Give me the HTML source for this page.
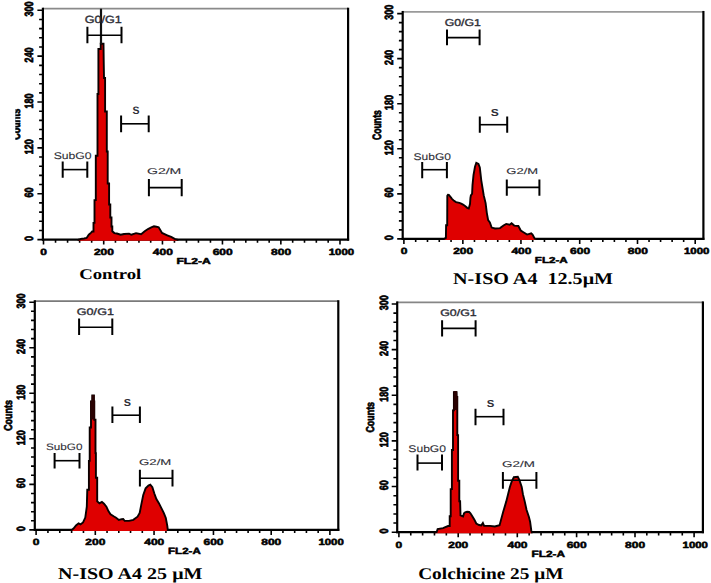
<!DOCTYPE html>
<html><head><meta charset="utf-8"><style>
html,body{margin:0;padding:0;background:#fff;width:711px;height:583px;overflow:hidden}
svg{display:block}
</style></head><body>
<svg width="711" height="583" viewBox="0 0 711 583" text-rendering="geometricPrecision">
<rect width="711" height="583" fill="#fff"/>
<g>
<line x1="42.9" y1="8.6" x2="348.1" y2="8.6" stroke="#8a8a8a" stroke-width="1.8"/>
<line x1="348.1" y1="7.7" x2="348.1" y2="240.6" stroke="#000" stroke-width="2.2"/>
<line x1="42.9" y1="7.7" x2="42.9" y2="240.6" stroke="#000" stroke-width="2.2"/>
<line x1="41.9" y1="239.6" x2="349.1" y2="239.6" stroke="#000" stroke-width="2.2"/>
<path d="M43.5 239.6v5 M55.54 239.6v3.2 M67.58 239.6v3.2 M79.62 239.6v3.2 M91.66 239.6v3.2 M103.7 239.6v5 M115.45 239.6v3.2 M127.2 239.6v3.2 M138.95 239.6v3.2 M150.7 239.6v3.2 M162.45 239.6v5 M174.45 239.6v3.2 M186.45 239.6v3.2 M198.45 239.6v3.2 M210.45 239.6v3.2 M222.45 239.6v5 M234.13 239.6v3.2 M245.81 239.6v3.2 M257.49 239.6v3.2 M269.17 239.6v3.2 M280.85 239.6v5 M292.68 239.6v3.2 M304.51 239.6v3.2 M316.34 239.6v3.2 M328.17 239.6v3.2 M340 239.6v5 M42.9 239.6h-5.5 M42.9 230.43h-3.8 M42.9 221.26h-3.8 M42.9 212.08h-3.8 M42.9 202.91h-3.8 M42.9 193.74h-5.5 M42.9 184.57h-3.8 M42.9 175.4h-3.8 M42.9 166.22h-3.8 M42.9 157.05h-3.8 M42.9 147.88h-5.5 M42.9 138.71h-3.8 M42.9 129.54h-3.8 M42.9 120.36h-3.8 M42.9 111.19h-3.8 M42.9 102.02h-5.5 M42.9 92.85h-3.8 M42.9 83.68h-3.8 M42.9 74.5h-3.8 M42.9 65.33h-3.8 M42.9 56.16h-5.5 M42.9 46.99h-3.8 M42.9 37.82h-3.8 M42.9 28.64h-3.8 M42.9 19.47h-3.8 M42.9 10.3h-5.5" stroke="#000" stroke-width="1.6" fill="none"/>
<clipPath id="hc0"><rect x="0" y="0" width="711" height="240.7"/></clipPath>
<g clip-path="url(#hc0)">
<path d="M78.5 251.1 L177.5 251.1 L177.5 239.7 L175.12 239.17 L171.18 236.95 L167.2 235.26 L162.05 232.99 L158.67 227.33 L156.39 226.69 L153.96 226.31 L151.3 227.36 L147.96 229.03 L144.7 231.3 L141.13 234.24 L136.03 233.12 L131.37 234.74 L129.1 233.61 L124.07 234 L120.67 234.72 L116.88 233.49 L114.38 233.07 L112.3 231.22 L112.3 226.5 L111.5 226.5 L111.5 217.5 L110.3 217.5 L110.3 204.5 L109.1 204.5 L109.1 183.5 L107.7 183.5 L107.7 151.5 L106.8 151.5 L106.8 111.5 L105.1 111.5 L105.1 78 L104.01 78 L103.7 60.01 L103.51 43.8 L100.7 43.8 L100.7 49 L98.4 49 L98.4 94 L97.5 94 L97.5 155.7 L95.8 155.7 L95.8 200.1 L94.5 200.1 L94.5 222.9 L93.5 222.9 L93.5 231.5 L92.12 231.5 L90.85 232.86 L88.78 234.73 L86.6 237.95 L84.08 238.49 L82.1 238.69 L80.13 239.28 L78.5 239.69 Z" fill="#df0000" stroke="#0a0000" stroke-width="1.9" stroke-linejoin="miter"/>
</g>
<line x1="101" y1="8.7" x2="101" y2="44" stroke="#111" stroke-width="2.2"/>
<text transform="translate(40.37,254.6) scale(0.12000,0.09000)" font-family="Liberation Sans" font-weight="bold" font-size="100" fill="#000" style="white-space:pre" stroke="#000" stroke-width="5.77" stroke-linejoin="round">0</text>
<text transform="translate(93.94,254.6) scale(0.12000,0.09000)" font-family="Liberation Sans" font-weight="bold" font-size="100" fill="#000" style="white-space:pre" stroke="#000" stroke-width="5.77" stroke-linejoin="round">200</text>
<text transform="translate(152.81,254.6) scale(0.12000,0.09000)" font-family="Liberation Sans" font-weight="bold" font-size="100" fill="#000" style="white-space:pre" stroke="#000" stroke-width="5.77" stroke-linejoin="round">400</text>
<text transform="translate(212.69,254.6) scale(0.12000,0.09000)" font-family="Liberation Sans" font-weight="bold" font-size="100" fill="#000" style="white-space:pre" stroke="#000" stroke-width="5.77" stroke-linejoin="round">600</text>
<text transform="translate(271.12,254.6) scale(0.12000,0.09000)" font-family="Liberation Sans" font-weight="bold" font-size="100" fill="#000" style="white-space:pre" stroke="#000" stroke-width="5.77" stroke-linejoin="round">800</text>
<text transform="translate(328.7,254.6) scale(0.11400,0.09000)" font-family="Liberation Sans" font-weight="bold" font-size="100" fill="#000" style="white-space:pre" stroke="#000" stroke-width="5.92" stroke-linejoin="round">1000</text>
<text transform="translate(33.14,240.9) rotate(-90) scale(0.09000,0.12000)" font-family="Liberation Sans" font-weight="bold" font-size="100" fill="#000" style="white-space:pre" stroke="#000" stroke-width="5.77" stroke-linejoin="round">0</text>
<text transform="translate(33.14,197.51) rotate(-90) scale(0.09000,0.12000)" font-family="Liberation Sans" font-weight="bold" font-size="100" fill="#000" style="white-space:pre" stroke="#000" stroke-width="5.77" stroke-linejoin="round">60</text>
<text transform="translate(33.14,154.26) rotate(-90) scale(0.09000,0.12000)" font-family="Liberation Sans" font-weight="bold" font-size="100" fill="#000" style="white-space:pre" stroke="#000" stroke-width="5.77" stroke-linejoin="round">120</text>
<text transform="translate(33.14,108.4) rotate(-90) scale(0.09000,0.12000)" font-family="Liberation Sans" font-weight="bold" font-size="100" fill="#000" style="white-space:pre" stroke="#000" stroke-width="5.77" stroke-linejoin="round">180</text>
<text transform="translate(33.14,62.43) rotate(-90) scale(0.09000,0.12000)" font-family="Liberation Sans" font-weight="bold" font-size="100" fill="#000" style="white-space:pre" stroke="#000" stroke-width="5.77" stroke-linejoin="round">240</text>
<text transform="translate(33.14,16.52) rotate(-90) scale(0.09000,0.12000)" font-family="Liberation Sans" font-weight="bold" font-size="100" fill="#000" style="white-space:pre" stroke="#000" stroke-width="5.77" stroke-linejoin="round">300</text>
<text transform="translate(20.28,139.76) rotate(-90) scale(0.09004,0.12394)" font-family="Liberation Sans" font-weight="bold" font-size="100" fill="#000" style="white-space:pre" stroke="#000" stroke-width="5.68" stroke-linejoin="round">Counts</text>
<text transform="translate(176.41,263.7) scale(0.12080,0.08714)" font-family="Liberation Sans" font-weight="bold" font-size="100" fill="#000" style="white-space:pre" stroke="#000" stroke-width="5.85" stroke-linejoin="round">FL2-A</text>
<path d="M87.4 35.2H121.5" stroke="#000" stroke-width="1.6" fill="none"/>
<path d="M87.4 26.8V43.3 M121.5 26.8V43.3" stroke="#000" stroke-width="2" fill="none"/>
<text transform="translate(84.67,22.8) scale(0.12561,0.10476)" font-family="Liberation Sans" font-weight="normal" font-size="100" fill="#2e2e36" style="white-space:pre" stroke="#2e2e36" stroke-width="3.49" stroke-linejoin="round">G0/G1</text>
<path d="M121.1 123.8H148.7" stroke="#000" stroke-width="1.6" fill="none"/>
<path d="M121.1 115.4V132.3 M148.7 115.4V132.3" stroke="#000" stroke-width="2" fill="none"/>
<text transform="translate(132.59,114.19) scale(0.10500,0.10845)" font-family="Liberation Sans" font-weight="bold" font-size="100" fill="#2e2e36" style="white-space:pre">S</text>
<path d="M62.7 169.6H87.3" stroke="#000" stroke-width="1.6" fill="none"/>
<path d="M62.7 161.5V177.7 M87.3 161.5V177.7" stroke="#000" stroke-width="2" fill="none"/>
<text transform="translate(53.65,159) scale(0.12178,0.09660)" font-family="Liberation Sans" font-weight="normal" font-size="100" fill="#2e2e36" style="white-space:pre" stroke="#2e2e36" stroke-width="0.92" stroke-linejoin="round">SubG0</text>
<path d="M148.9 187.6H181.7" stroke="#000" stroke-width="1.6" fill="none"/>
<path d="M148.9 178.9V196.3 M181.7 178.9V196.3" stroke="#000" stroke-width="2" fill="none"/>
<text transform="translate(147,174.22) scale(0.14026,0.08435)" font-family="Liberation Sans" font-weight="normal" font-size="100" fill="#2e2e36" style="white-space:pre" stroke="#2e2e36" stroke-width="1.38" stroke-linejoin="round">G2/M</text>
<text transform="translate(79.16,279) scale(0.18737,0.14809)" font-family="Liberation Serif" font-weight="bold" font-size="100" fill="#000" style="white-space:pre">Control</text>
<rect x="0" y="100" width="15.3" height="50" fill="#fff"/>
</g>
<g>
<line x1="402.7" y1="11.85" x2="703.4" y2="11.85" stroke="#9a9a9a" stroke-width="1.8"/>
<line x1="703.4" y1="10.95" x2="703.4" y2="239.9" stroke="#000" stroke-width="2.2"/>
<line x1="402.7" y1="10.95" x2="402.7" y2="239.9" stroke="#000" stroke-width="2.2"/>
<line x1="401.7" y1="238.9" x2="704.4" y2="238.9" stroke="#000" stroke-width="2.2"/>
<path d="M403.9 238.9v5 M415.69 238.9v3.2 M427.48 238.9v3.2 M439.27 238.9v3.2 M451.06 238.9v3.2 M462.85 238.9v5 M474.47 238.9v3.2 M486.09 238.9v3.2 M497.71 238.9v3.2 M509.33 238.9v3.2 M520.95 238.9v5 M532.7 238.9v3.2 M544.45 238.9v3.2 M556.2 238.9v3.2 M567.95 238.9v3.2 M579.7 238.9v5 M591.26 238.9v3.2 M602.82 238.9v3.2 M614.38 238.9v3.2 M625.94 238.9v3.2 M637.5 238.9v5 M649.04 238.9v3.2 M660.58 238.9v3.2 M672.12 238.9v3.2 M683.66 238.9v3.2 M695.2 238.9v5 M402.7 238.9h-5.5 M402.7 229.89h-3.8 M402.7 220.88h-3.8 M402.7 211.86h-3.8 M402.7 202.85h-3.8 M402.7 193.84h-5.5 M402.7 184.83h-3.8 M402.7 175.82h-3.8 M402.7 166.8h-3.8 M402.7 157.79h-3.8 M402.7 148.78h-5.5 M402.7 139.77h-3.8 M402.7 130.76h-3.8 M402.7 121.74h-3.8 M402.7 112.73h-3.8 M402.7 103.72h-5.5 M402.7 94.71h-3.8 M402.7 85.7h-3.8 M402.7 76.68h-3.8 M402.7 67.67h-3.8 M402.7 58.66h-5.5 M402.7 49.65h-3.8 M402.7 40.64h-3.8 M402.7 31.62h-3.8 M402.7 22.61h-3.8 M402.7 13.6h-5.5" stroke="#000" stroke-width="1.6" fill="none"/>
<clipPath id="hc1"><rect x="0" y="0" width="711" height="240"/></clipPath>
<g clip-path="url(#hc1)">
<path d="M440.7 250.2 L536.3 250.2 L536.3 238.89 L534.75 238.63 L532.54 234.63 L531.2 233.29 L527.09 234.57 L523.42 232.19 L520.77 230.49 L518.36 225.96 L514.21 225.58 L511.57 223.3 L509.66 224.76 L506.21 223.94 L503.49 225.49 L500.06 228.08 L495.03 228.51 L491.66 227.58 L489.87 222.34 L488.14 220.09 L486.81 212.81 L485.61 203.13 L483.71 195.24 L481.31 180.6 L479.81 167.47 L478.45 164 L476.3 162.89 L474.98 166.78 L473.49 175.1 L472.5 185.05 L472.09 193.74 L470.86 195.48 L470.4 198.09 L469.99 204.12 L468.75 208.46 L467.24 207.81 L465.08 206.06 L463.03 204.6 L461.2 203.63 L459.39 202.87 L456.02 202.16 L454.06 200.85 L451.98 198.87 L450.45 196.93 L448.83 194.86 L447.94 194.75 L447.3 195.71 L447.2 225.3 L446.09 225.3 L445.89 237.9 L443.73 239.18 L440.7 239.52 Z" fill="#df0000" stroke="#0a0000" stroke-width="1.9" stroke-linejoin="miter"/>
</g>
<text transform="translate(400.87,253.6) scale(0.12000,0.09000)" font-family="Liberation Sans" font-weight="bold" font-size="100" fill="#000" style="white-space:pre" stroke="#000" stroke-width="5.77" stroke-linejoin="round">0</text>
<text transform="translate(453.19,253.6) scale(0.12000,0.09000)" font-family="Liberation Sans" font-weight="bold" font-size="100" fill="#000" style="white-space:pre" stroke="#000" stroke-width="5.77" stroke-linejoin="round">200</text>
<text transform="translate(511.41,253.6) scale(0.12000,0.09000)" font-family="Liberation Sans" font-weight="bold" font-size="100" fill="#000" style="white-space:pre" stroke="#000" stroke-width="5.77" stroke-linejoin="round">400</text>
<text transform="translate(570.04,253.6) scale(0.12000,0.09000)" font-family="Liberation Sans" font-weight="bold" font-size="100" fill="#000" style="white-space:pre" stroke="#000" stroke-width="5.77" stroke-linejoin="round">600</text>
<text transform="translate(627.87,253.6) scale(0.12000,0.09000)" font-family="Liberation Sans" font-weight="bold" font-size="100" fill="#000" style="white-space:pre" stroke="#000" stroke-width="5.77" stroke-linejoin="round">800</text>
<text transform="translate(684,253.6) scale(0.11400,0.09000)" font-family="Liberation Sans" font-weight="bold" font-size="100" fill="#000" style="white-space:pre" stroke="#000" stroke-width="5.92" stroke-linejoin="round">1000</text>
<text transform="translate(393.14,240.2) rotate(-90) scale(0.09000,0.12000)" font-family="Liberation Sans" font-weight="bold" font-size="100" fill="#000" style="white-space:pre" stroke="#000" stroke-width="5.77" stroke-linejoin="round">0</text>
<text transform="translate(393.14,197.61) rotate(-90) scale(0.09000,0.12000)" font-family="Liberation Sans" font-weight="bold" font-size="100" fill="#000" style="white-space:pre" stroke="#000" stroke-width="5.77" stroke-linejoin="round">60</text>
<text transform="translate(393.14,155.16) rotate(-90) scale(0.09000,0.12000)" font-family="Liberation Sans" font-weight="bold" font-size="100" fill="#000" style="white-space:pre" stroke="#000" stroke-width="5.77" stroke-linejoin="round">120</text>
<text transform="translate(393.14,110.1) rotate(-90) scale(0.09000,0.12000)" font-family="Liberation Sans" font-weight="bold" font-size="100" fill="#000" style="white-space:pre" stroke="#000" stroke-width="5.77" stroke-linejoin="round">180</text>
<text transform="translate(393.14,64.93) rotate(-90) scale(0.09000,0.12000)" font-family="Liberation Sans" font-weight="bold" font-size="100" fill="#000" style="white-space:pre" stroke="#000" stroke-width="5.77" stroke-linejoin="round">240</text>
<text transform="translate(393.14,19.82) rotate(-90) scale(0.09000,0.12000)" font-family="Liberation Sans" font-weight="bold" font-size="100" fill="#000" style="white-space:pre" stroke="#000" stroke-width="5.77" stroke-linejoin="round">300</text>
<text transform="translate(381.18,139.95) rotate(-90) scale(0.08648,0.12113)" font-family="Liberation Sans" font-weight="bold" font-size="100" fill="#000" style="white-space:pre" stroke="#000" stroke-width="5.86" stroke-linejoin="round">Counts</text>
<text transform="translate(534.85,263.4) scale(0.11606,0.08714)" font-family="Liberation Sans" font-weight="bold" font-size="100" fill="#000" style="white-space:pre" stroke="#000" stroke-width="5.97" stroke-linejoin="round">FL2-A</text>
<path d="M447 37.6H479.6" stroke="#000" stroke-width="1.6" fill="none"/>
<path d="M447 29.4V45.3 M479.6 29.4V45.3" stroke="#000" stroke-width="2" fill="none"/>
<text transform="translate(444.68,25.5) scale(0.12316,0.09932)" font-family="Liberation Sans" font-weight="normal" font-size="100" fill="#2e2e36" style="white-space:pre" stroke="#2e2e36" stroke-width="3.62" stroke-linejoin="round">G0/G1</text>
<path d="M479.8 124.7H507.2" stroke="#000" stroke-width="1.6" fill="none"/>
<path d="M479.8 116.6V132.8 M507.2 116.6V132.8" stroke="#000" stroke-width="2" fill="none"/>
<text transform="translate(490.64,115.6) scale(0.12000,0.10141)" font-family="Liberation Sans" font-weight="bold" font-size="100" fill="#2e2e36" style="white-space:pre">S</text>
<path d="M422.2 169.7H446.9" stroke="#000" stroke-width="1.6" fill="none"/>
<path d="M422.2 162V178.2 M446.9 162V178.2" stroke="#000" stroke-width="2" fill="none"/>
<text transform="translate(413.46,159.7) scale(0.12046,0.09796)" font-family="Liberation Sans" font-weight="normal" font-size="100" fill="#2e2e36" style="white-space:pre" stroke="#2e2e36" stroke-width="0.92" stroke-linejoin="round">SubG0</text>
<path d="M506.8 187.4H539.4" stroke="#000" stroke-width="1.6" fill="none"/>
<path d="M506.8 179.4V195.7 M539.4 179.4V195.7" stroke="#000" stroke-width="2" fill="none"/>
<text transform="translate(506.35,174.42) scale(0.12987,0.08435)" font-family="Liberation Sans" font-weight="normal" font-size="100" fill="#2e2e36" style="white-space:pre" stroke="#2e2e36" stroke-width="1.43" stroke-linejoin="round">G2/M</text>
<text transform="translate(453.1,284.4) scale(0.20101,0.16489)" font-family="Liberation Serif" font-weight="bold" font-size="100" fill="#000" style="white-space:pre">N-ISO A4  12.5μM</text>
</g>
<g>
<line x1="34.8" y1="301.1" x2="338.3" y2="301.1" stroke="#7a7a7a" stroke-width="1.8"/>
<line x1="338.3" y1="300.2" x2="338.3" y2="530.9" stroke="#000" stroke-width="2.2"/>
<line x1="34.8" y1="300.2" x2="34.8" y2="530.9" stroke="#000" stroke-width="2.2"/>
<line x1="33.8" y1="529.9" x2="339.3" y2="529.9" stroke="#000" stroke-width="2.2"/>
<path d="M36.1 529.9v5 M47.94 529.9v3.2 M59.78 529.9v3.2 M71.62 529.9v3.2 M83.46 529.9v3.2 M95.3 529.9v5 M107.05 529.9v3.2 M118.8 529.9v3.2 M130.55 529.9v3.2 M142.3 529.9v3.2 M154.05 529.9v5 M165.93 529.9v3.2 M177.81 529.9v3.2 M189.69 529.9v3.2 M201.57 529.9v3.2 M213.45 529.9v5 M225 529.9v3.2 M236.55 529.9v3.2 M248.1 529.9v3.2 M259.65 529.9v3.2 M271.2 529.9v5 M282.94 529.9v3.2 M294.68 529.9v3.2 M306.42 529.9v3.2 M318.16 529.9v3.2 M329.9 529.9v5 M34.8 529.9h-5.5 M34.8 520.79h-3.8 M34.8 511.68h-3.8 M34.8 502.58h-3.8 M34.8 493.47h-3.8 M34.8 484.36h-5.5 M34.8 475.25h-3.8 M34.8 466.14h-3.8 M34.8 457.04h-3.8 M34.8 447.93h-3.8 M34.8 438.82h-5.5 M34.8 429.71h-3.8 M34.8 420.6h-3.8 M34.8 411.5h-3.8 M34.8 402.39h-3.8 M34.8 393.28h-5.5 M34.8 384.17h-3.8 M34.8 375.06h-3.8 M34.8 365.96h-3.8 M34.8 356.85h-3.8 M34.8 347.74h-5.5 M34.8 338.63h-3.8 M34.8 329.52h-3.8 M34.8 320.42h-3.8 M34.8 311.31h-3.8 M34.8 302.2h-5.5" stroke="#000" stroke-width="1.6" fill="none"/>
<clipPath id="hc2"><rect x="0" y="0" width="711" height="531"/></clipPath>
<g clip-path="url(#hc2)">
<path d="M69.7 541.2 L167.8 541.2 L167.8 529.94 L167.31 525.91 L165.82 518 L163.86 513.09 L161.37 508.11 L158.89 503.14 L156.37 499.11 L154.34 493.52 L152.37 487.14 L150.31 484.67 L148.41 485.58 L145.61 488.38 L143.18 495.19 L141.19 505.14 L139.67 512.95 L137.54 516.67 L133.31 519.84 L129.09 520.9 L124.66 520.9 L123.19 519.03 L121.63 519.19 L118.84 519.97 L116.1 517.78 L113.63 516.29 L110.5 514.2 L108.39 511.04 L106.4 506.67 L103.99 503.69 L101.92 501.86 L99.41 503.37 L97.2 501.3 L97.2 477.7 L95.9 477.7 L95.9 453.1 L95.5 453.1 L95.5 419.8 L94.3 419.8 L94.3 401.4 L93.9 401.4 L93.9 395.4 L92.3 395.4 L92.3 401.4 L91 401.4 L91 427.5 L89.7 427.5 L89.7 460.9 L88.9 460.9 L88.9 489.7 L87.28 489.7 L86.8 506.66 L85.28 517.6 L83.06 522.45 L80.57 524.32 L78.6 523.33 L76 525.5 L73.5 528.49 L71.29 530.37 L69.7 530.53 Z" fill="#df0000" stroke="#0a0000" stroke-width="1.9" stroke-linejoin="miter"/>
<path d="M91.8 395 L94.4 395 L94.6 400.7 L94.9 400.7 L94.9 419.5 L90.4 419.5 L90.4 400.7 L91.6 400.7 Z" fill="#2a0202"/>
</g>
<text transform="translate(32.77,545.3) scale(0.12000,0.09000)" font-family="Liberation Sans" font-weight="bold" font-size="100" fill="#000" style="white-space:pre" stroke="#000" stroke-width="5.77" stroke-linejoin="round">0</text>
<text transform="translate(85.34,545.3) scale(0.12000,0.09000)" font-family="Liberation Sans" font-weight="bold" font-size="100" fill="#000" style="white-space:pre" stroke="#000" stroke-width="5.77" stroke-linejoin="round">200</text>
<text transform="translate(144.21,545.3) scale(0.12000,0.09000)" font-family="Liberation Sans" font-weight="bold" font-size="100" fill="#000" style="white-space:pre" stroke="#000" stroke-width="5.77" stroke-linejoin="round">400</text>
<text transform="translate(203.49,545.3) scale(0.12000,0.09000)" font-family="Liberation Sans" font-weight="bold" font-size="100" fill="#000" style="white-space:pre" stroke="#000" stroke-width="5.77" stroke-linejoin="round">600</text>
<text transform="translate(261.27,545.3) scale(0.12000,0.09000)" font-family="Liberation Sans" font-weight="bold" font-size="100" fill="#000" style="white-space:pre" stroke="#000" stroke-width="5.77" stroke-linejoin="round">800</text>
<text transform="translate(318.4,545.3) scale(0.11400,0.09000)" font-family="Liberation Sans" font-weight="bold" font-size="100" fill="#000" style="white-space:pre" stroke="#000" stroke-width="5.92" stroke-linejoin="round">1000</text>
<text transform="translate(25.34,531.2) rotate(-90) scale(0.09000,0.12000)" font-family="Liberation Sans" font-weight="bold" font-size="100" fill="#000" style="white-space:pre" stroke="#000" stroke-width="5.77" stroke-linejoin="round">0</text>
<text transform="translate(25.34,488.13) rotate(-90) scale(0.09000,0.12000)" font-family="Liberation Sans" font-weight="bold" font-size="100" fill="#000" style="white-space:pre" stroke="#000" stroke-width="5.77" stroke-linejoin="round">60</text>
<text transform="translate(25.34,445.2) rotate(-90) scale(0.09000,0.12000)" font-family="Liberation Sans" font-weight="bold" font-size="100" fill="#000" style="white-space:pre" stroke="#000" stroke-width="5.77" stroke-linejoin="round">120</text>
<text transform="translate(25.34,399.66) rotate(-90) scale(0.09000,0.12000)" font-family="Liberation Sans" font-weight="bold" font-size="100" fill="#000" style="white-space:pre" stroke="#000" stroke-width="5.77" stroke-linejoin="round">180</text>
<text transform="translate(25.34,354.01) rotate(-90) scale(0.09000,0.12000)" font-family="Liberation Sans" font-weight="bold" font-size="100" fill="#000" style="white-space:pre" stroke="#000" stroke-width="5.77" stroke-linejoin="round">240</text>
<text transform="translate(25.34,308.43) rotate(-90) scale(0.09000,0.12000)" font-family="Liberation Sans" font-weight="bold" font-size="100" fill="#000" style="white-space:pre" stroke="#000" stroke-width="5.77" stroke-linejoin="round">300</text>
<text transform="translate(12.29,430.86) rotate(-90) scale(0.08915,0.11408)" font-family="Liberation Sans" font-weight="bold" font-size="100" fill="#000" style="white-space:pre" stroke="#000" stroke-width="5.95" stroke-linejoin="round">Counts</text>
<text transform="translate(168.05,553.9) scale(0.11569,0.09000)" font-family="Liberation Sans" font-weight="bold" font-size="100" fill="#000" style="white-space:pre" stroke="#000" stroke-width="5.88" stroke-linejoin="round">FL2-A</text>
<path d="M79.1 327.3H112.3" stroke="#000" stroke-width="1.6" fill="none"/>
<path d="M79.1 318.6V335 M112.3 318.6V335" stroke="#000" stroke-width="2" fill="none"/>
<text transform="translate(76.77,315.2) scale(0.12632,0.09524)" font-family="Liberation Sans" font-weight="normal" font-size="100" fill="#2e2e36" style="white-space:pre" stroke="#2e2e36" stroke-width="3.65" stroke-linejoin="round">G0/G1</text>
<path d="M112.4 415.2H139.9" stroke="#000" stroke-width="1.6" fill="none"/>
<path d="M112.4 406.6V422.9 M139.9 406.6V422.9" stroke="#000" stroke-width="2" fill="none"/>
<text transform="translate(123.77,405.6) scale(0.10833,0.10141)" font-family="Liberation Sans" font-weight="bold" font-size="100" fill="#2e2e36" style="white-space:pre">S</text>
<path d="M54.6 460.7H79.5" stroke="#000" stroke-width="1.6" fill="none"/>
<path d="M54.6 452.9V468.4 M79.5 452.9V468.4" stroke="#000" stroke-width="2" fill="none"/>
<text transform="translate(45.97,450.31) scale(0.11716,0.09388)" font-family="Liberation Sans" font-weight="normal" font-size="100" fill="#2e2e36" style="white-space:pre" stroke="#2e2e36" stroke-width="0.95" stroke-linejoin="round">SubG0</text>
<path d="M139.9 478.2H172.5" stroke="#000" stroke-width="1.6" fill="none"/>
<path d="M139.9 469.7V486.4 M172.5 469.7V486.4" stroke="#000" stroke-width="2" fill="none"/>
<text transform="translate(139.04,464.62) scale(0.13203,0.08435)" font-family="Liberation Sans" font-weight="normal" font-size="100" fill="#2e2e36" style="white-space:pre" stroke="#2e2e36" stroke-width="1.42" stroke-linejoin="round">G2/M</text>
<text transform="translate(58,578.9) scale(0.20042,0.16336)" font-family="Liberation Serif" font-weight="bold" font-size="100" fill="#000" style="white-space:pre">N-ISO A4 25 μM</text>
</g>
<g>
<line x1="397.2" y1="302.3" x2="702.9" y2="302.3" stroke="#868686" stroke-width="1.8"/>
<line x1="702.9" y1="301.4" x2="702.9" y2="533.2" stroke="#000" stroke-width="2.2"/>
<line x1="397.2" y1="301.4" x2="397.2" y2="533.2" stroke="#000" stroke-width="2.2"/>
<line x1="396.2" y1="532.2" x2="703.9" y2="532.2" stroke="#000" stroke-width="2.2"/>
<path d="M398.9 532.2v5 M410.76 532.2v3.2 M422.62 532.2v3.2 M434.48 532.2v3.2 M446.34 532.2v3.2 M458.2 532.2v5 M470.02 532.2v3.2 M481.84 532.2v3.2 M493.66 532.2v3.2 M505.48 532.2v3.2 M517.3 532.2v5 M529.16 532.2v3.2 M541.02 532.2v3.2 M552.88 532.2v3.2 M564.74 532.2v3.2 M576.6 532.2v5 M588.28 532.2v3.2 M599.96 532.2v3.2 M611.64 532.2v3.2 M623.32 532.2v3.2 M635 532.2v5 M646.82 532.2v3.2 M658.64 532.2v3.2 M670.46 532.2v3.2 M682.28 532.2v3.2 M694.1 532.2v5 M397.2 532.2h-5.5 M397.2 523.07h-3.8 M397.2 513.94h-3.8 M397.2 504.82h-3.8 M397.2 495.69h-3.8 M397.2 486.56h-5.5 M397.2 477.43h-3.8 M397.2 468.3h-3.8 M397.2 459.18h-3.8 M397.2 450.05h-3.8 M397.2 440.92h-5.5 M397.2 431.79h-3.8 M397.2 422.66h-3.8 M397.2 413.54h-3.8 M397.2 404.41h-3.8 M397.2 395.28h-5.5 M397.2 386.15h-3.8 M397.2 377.02h-3.8 M397.2 367.9h-3.8 M397.2 358.77h-3.8 M397.2 349.64h-5.5 M397.2 340.51h-3.8 M397.2 331.38h-3.8 M397.2 322.26h-3.8 M397.2 313.13h-3.8 M397.2 304h-5.5" stroke="#000" stroke-width="1.6" fill="none"/>
<clipPath id="hc3"><rect x="0" y="0" width="711" height="533.3"/></clipPath>
<g clip-path="url(#hc3)">
<path d="M434.7 543.5 L531.8 543.5 L531.8 532.31 L531.31 530.75 L530.11 521.73 L528.93 517 L526.52 509.78 L524.72 501.36 L522.91 494.14 L521.72 486.97 L519.35 479.87 L517.8 476.76 L513.86 477.25 L511.65 481.67 L509.87 487 L508.08 494.17 L506.28 501.38 L503.27 511.59 L499.57 525.16 L494.85 526.51 L489.96 525.9 L484.15 525.9 L482.88 523.05 L481.33 525.37 L479.07 524.97 L476.27 523.51 L474.39 519.64 L472 515.77 L470.45 513.24 L469.18 511.97 L467.05 511.71 L465.16 512.23 L464.02 513.37 L463.04 516.55 L460.51 515.47 L460.12 501.3 L459.3 501.3 L459.3 480.8 L458.1 480.8 L458.1 435.1 L457.3 435.1 L457.3 397 L456.6 397 L456.6 392.3 L453.9 392.3 L453.9 410.4 L453 410.4 L453 450 L451.9 450 L451.9 489.1 L450.7 489.1 L450.7 516.2 L449.7 516.2 L449.7 526 L448.04 526 L443 528.08 L437.64 529.02 L436.66 532.05 L434.7 532.7 Z" fill="#df0000" stroke="#0a0000" stroke-width="1.9" stroke-linejoin="miter"/>
<path d="M453.6 391 L456.9 391 L457.3 396.3 L457.9 396.3 L457.9 410 L452.4 410 L452.4 409.7 L453.3 409.7 Z" fill="#2a0202"/>
</g>
<text transform="translate(395.57,547.61) scale(0.12000,0.09000)" font-family="Liberation Sans" font-weight="bold" font-size="100" fill="#000" style="white-space:pre" stroke="#000" stroke-width="5.77" stroke-linejoin="round">0</text>
<text transform="translate(448.24,547.61) scale(0.12000,0.09000)" font-family="Liberation Sans" font-weight="bold" font-size="100" fill="#000" style="white-space:pre" stroke="#000" stroke-width="5.77" stroke-linejoin="round">200</text>
<text transform="translate(507.46,547.61) scale(0.12000,0.09000)" font-family="Liberation Sans" font-weight="bold" font-size="100" fill="#000" style="white-space:pre" stroke="#000" stroke-width="5.77" stroke-linejoin="round">400</text>
<text transform="translate(566.64,547.61) scale(0.12000,0.09000)" font-family="Liberation Sans" font-weight="bold" font-size="100" fill="#000" style="white-space:pre" stroke="#000" stroke-width="5.77" stroke-linejoin="round">600</text>
<text transform="translate(625.07,547.61) scale(0.12000,0.09000)" font-family="Liberation Sans" font-weight="bold" font-size="100" fill="#000" style="white-space:pre" stroke="#000" stroke-width="5.77" stroke-linejoin="round">800</text>
<text transform="translate(682.6,547.61) scale(0.11400,0.09000)" font-family="Liberation Sans" font-weight="bold" font-size="100" fill="#000" style="white-space:pre" stroke="#000" stroke-width="5.92" stroke-linejoin="round">1000</text>
<text transform="translate(387.74,533.5) rotate(-90) scale(0.09000,0.12000)" font-family="Liberation Sans" font-weight="bold" font-size="100" fill="#000" style="white-space:pre" stroke="#000" stroke-width="5.77" stroke-linejoin="round">0</text>
<text transform="translate(387.74,490.33) rotate(-90) scale(0.09000,0.12000)" font-family="Liberation Sans" font-weight="bold" font-size="100" fill="#000" style="white-space:pre" stroke="#000" stroke-width="5.77" stroke-linejoin="round">60</text>
<text transform="translate(387.74,447.3) rotate(-90) scale(0.09000,0.12000)" font-family="Liberation Sans" font-weight="bold" font-size="100" fill="#000" style="white-space:pre" stroke="#000" stroke-width="5.77" stroke-linejoin="round">120</text>
<text transform="translate(387.74,401.66) rotate(-90) scale(0.09000,0.12000)" font-family="Liberation Sans" font-weight="bold" font-size="100" fill="#000" style="white-space:pre" stroke="#000" stroke-width="5.77" stroke-linejoin="round">180</text>
<text transform="translate(387.74,355.91) rotate(-90) scale(0.09000,0.12000)" font-family="Liberation Sans" font-weight="bold" font-size="100" fill="#000" style="white-space:pre" stroke="#000" stroke-width="5.77" stroke-linejoin="round">240</text>
<text transform="translate(387.74,310.23) rotate(-90) scale(0.09000,0.12000)" font-family="Liberation Sans" font-weight="bold" font-size="100" fill="#000" style="white-space:pre" stroke="#000" stroke-width="5.77" stroke-linejoin="round">300</text>
<text transform="translate(374.49,432.56) rotate(-90) scale(0.08886,0.11408)" font-family="Liberation Sans" font-weight="bold" font-size="100" fill="#000" style="white-space:pre" stroke="#000" stroke-width="5.96" stroke-linejoin="round">Counts</text>
<text transform="translate(531.53,556.7) scale(0.11825,0.09000)" font-family="Liberation Sans" font-weight="bold" font-size="100" fill="#000" style="white-space:pre" stroke="#000" stroke-width="5.82" stroke-linejoin="round">FL2-A</text>
<path d="M442.1 328.4H475.6" stroke="#000" stroke-width="1.6" fill="none"/>
<path d="M442.1 320.3V336.6 M475.6 320.3V336.6" stroke="#000" stroke-width="2" fill="none"/>
<text transform="translate(440.18,316.3) scale(0.12421,0.09524)" font-family="Liberation Sans" font-weight="normal" font-size="100" fill="#2e2e36" style="white-space:pre" stroke="#2e2e36" stroke-width="3.68" stroke-linejoin="round">G0/G1</text>
<path d="M475.5 416.7H503.5" stroke="#000" stroke-width="1.6" fill="none"/>
<path d="M475.5 408.7V425.3 M503.5 408.7V425.3" stroke="#000" stroke-width="2" fill="none"/>
<text transform="translate(486.86,407.2) scale(0.11333,0.10141)" font-family="Liberation Sans" font-weight="bold" font-size="100" fill="#2e2e36" style="white-space:pre">S</text>
<path d="M417.5 463.1H442" stroke="#000" stroke-width="1.6" fill="none"/>
<path d="M417.5 454.5V470.5 M442 454.5V470.5" stroke="#000" stroke-width="2" fill="none"/>
<text transform="translate(408.36,452.2) scale(0.12079,0.09796)" font-family="Liberation Sans" font-weight="normal" font-size="100" fill="#2e2e36" style="white-space:pre" stroke="#2e2e36" stroke-width="0.92" stroke-linejoin="round">SubG0</text>
<path d="M502.9 480.3H536.4" stroke="#000" stroke-width="1.6" fill="none"/>
<path d="M502.9 472V488.7 M536.4 472V488.7" stroke="#000" stroke-width="2" fill="none"/>
<text transform="translate(502.03,466.92) scale(0.13420,0.08435)" font-family="Liberation Sans" font-weight="normal" font-size="100" fill="#2e2e36" style="white-space:pre" stroke="#2e2e36" stroke-width="1.41" stroke-linejoin="round">G2/M</text>
<text transform="translate(418.13,578.9) scale(0.19367,0.16336)" font-family="Liberation Serif" font-weight="bold" font-size="100" fill="#000" style="white-space:pre">Colchicine 25 μM</text>
</g>
</svg>
</body></html>
